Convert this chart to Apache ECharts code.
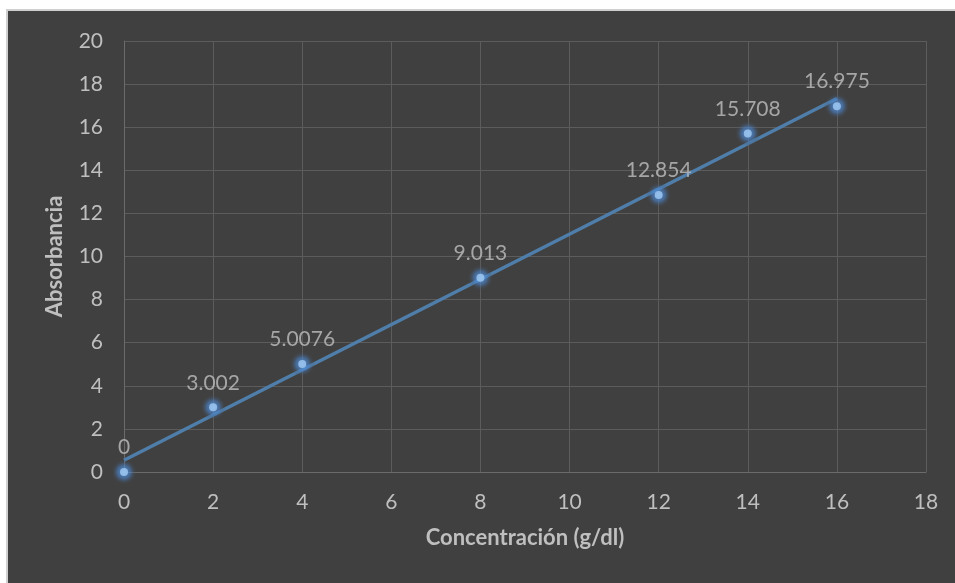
<!DOCTYPE html>
<html>
<head>
<meta charset="utf-8">
<script src="https://cdn.jsdelivr.net/npm/echarts@6/dist/echarts.min.js"></script>
<style>
  html, body { margin: 0; padding: 0; background: #ffffff; }
  #chart {
    position: absolute; left: 6px; top: 9px;
    width: 947px; height: 572px;
    border-left: 2px solid #cfcfcf; border-top: 2px solid #cfcfcf;
    background: #404040;
  }
</style>
</head>
<body>
<div id="chart"></div>
<script>
// Calibration data: concentration (g/dl) vs absorbance
const concentracion = [0, 2, 4, 8, 12, 14, 16];
const absorbancia = [0, 3.002, 5.0076, 9.013, 12.854, 15.708, 16.975];
const xTicks = { min: 0, max: 18, interval: 2 };
const yTicks = { min: 0, max: 20, interval: 2 };

// Least-squares linear trendline across the measured range
function linearFit(xs, ys) {
  const n = xs.length;
  const mx = xs.reduce((a, b) => a + b, 0) / n;
  const my = ys.reduce((a, b) => a + b, 0) / n;
  let sxy = 0, sxx = 0;
  for (let i = 0; i < n; i++) {
    sxy += (xs[i] - mx) * (ys[i] - my);
    sxx += (xs[i] - mx) * (xs[i] - mx);
  }
  const m = sxy / sxx;
  return { m, b: my - m * mx };
}
const fit = linearFit(concentracion, absorbancia);
const xFirst = Math.min(...concentracion), xLast = Math.max(...concentracion);
const trend = [[xFirst, fit.m * xFirst + fit.b], [xLast, fit.m * xLast + fit.b]];

const points = concentracion.map((x, i) => [x, absorbancia[i]]);

const FONT = 'Lato, "Open Sans", sans-serif';
const TEXT = '#bfbfbf';
const chart = echarts.init(document.getElementById('chart'));
chart.setOption({
  backgroundColor: '#404040',
  animation: false,
  grid: { left: 116, right: 29, top: 30, bottom: 111 },
  xAxis: {
    type: 'value', min: xTicks.min, max: xTicks.max, interval: xTicks.interval,
    name: 'Concentración (g/dl)', nameLocation: 'middle', nameGap: 55,
    nameTextStyle: { color: TEXT, fontSize: 22, fontWeight: 'bold', fontFamily: FONT },
    axisLine: { show: true, lineStyle: { color: '#6b6b6b', width: 1 } },
    axisTick: { show: false },
    axisLabel: { color: TEXT, fontSize: 21, fontFamily: FONT, margin: 20 },
    splitLine: { show: true, lineStyle: { color: '#5c5c5c', width: 1 } }
  },
  yAxis: {
    type: 'value', min: yTicks.min, max: yTicks.max, interval: yTicks.interval,
    name: 'Absorbancia', nameLocation: 'middle', nameGap: 58,
    nameTextStyle: { color: TEXT, fontSize: 22, fontWeight: 'bold', fontFamily: FONT },
    axisLine: { show: true, lineStyle: { color: '#6b6b6b', width: 1 } },
    axisTick: { show: false },
    axisLabel: { color: TEXT, fontSize: 21, fontFamily: FONT, margin: 21 },
    splitLine: { show: true, lineStyle: { color: '#5c5c5c', width: 1 } }
  },
  series: [
    {
      type: 'line', data: trend, showSymbol: false, silent: true, z: 2,
      lineStyle: { color: '#4f7eaa', width: 3.5 }
    },
    {
      // soft glow halo behind each marker
      type: 'scatter', data: points, symbol: 'circle', symbolSize: 26, z: 3, silent: true,
      itemStyle: {
        opacity: 1,
        color: {
          type: 'radial', x: 0.5, y: 0.5, r: 0.5,
          colorStops: [
            { offset: 0, color: 'rgba(90,155,230,0.95)' },
            { offset: 0.5, color: 'rgba(75,135,210,0.55)' },
            { offset: 1, color: 'rgba(64,64,64,0)' }
          ]
        }
      }
    },
    {
      type: 'scatter', data: points, symbol: 'circle', symbolSize: 8, z: 4,
      itemStyle: { color: '#a3cbf2' },
      label: {
        show: true, position: 'top', distance: 10,
        color: TEXT, fontSize: 21, fontFamily: FONT,
        formatter: p => String(p.value[1])
      }
    }
  ]
});
</script>
</body>
</html>
